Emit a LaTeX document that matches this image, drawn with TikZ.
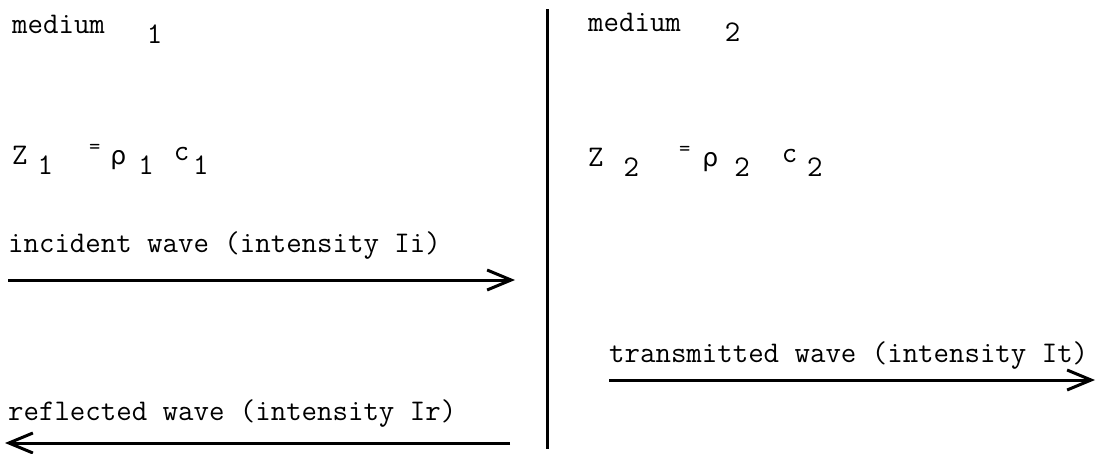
\documentclass[tikz,border=0pt]{standalone}
\usepackage{fontspec}
\usepackage{tikz}
\usetikzlibrary{arrows.meta}
\newfontfamily\grk{DejaVu Sans}
\newcommand{\wavefont}{\ttfamily\fontsize{30}{34}\selectfont\addfontfeatures{FakeBold=2.5}}
\newcommand{\sub}[1]{\raisebox{-10pt}{#1}}
\newcommand{\eqs}{\raisebox{11pt}{\fontsize{22}{26}\selectfont =}}
\newcommand{\rh}{{\grk\fontsize{25}{28}\selectfont ρ}}

\begin{document}
\begin{tikzpicture}[x=1pt,y=-1pt,
    lbl/.style={anchor=base west,inner sep=0pt,font=\wavefont},
    wave/.style={line width=3pt,-{Straight Barb[length=24pt,width=20pt]}}]
    \useasboundingbox (0,0) rectangle (1097,453);
    % boundary between the two media
    \coordinate (btop) at (547,9);
    \coordinate (bbot) at (547,449);
    \draw[line width=3pt] (btop) -- (bbot);

    % medium 1
    \node[lbl] (med1) at (12,33) {medium\hspace{42pt}\sub{1}};
    \node[lbl] (imp1) at (12,164) {Z\hspace{10pt}\sub{1}\hspace{36pt}\eqs\hspace{10pt}\rh\hspace{12pt}\sub{1}\hspace{20pt}\raisebox{4pt}{c}\hspace{4pt}\sub{1}};
    \node[lbl] (inc) at (8,252) {incident wave (intensity Ii)};
    \node[lbl] (refl) at (8,420) {reflected wave (intensity Ir)};
    \coordinate (incA) at (8,280);
    \coordinate (incB) at (515,280);
    \coordinate (refA) at (510,443);
    \coordinate (refB) at (5,443);
    \draw[wave] (incA) -- (incB);
    \draw[wave] (refA) -- (refB);

    % medium 2
    \node[lbl] (med2) at (588,31) {medium\hspace{44pt}\sub{2}};
    \node[lbl] (imp2) at (588,166) {Z\hspace{20pt}\sub{2}\hspace{40pt}\eqs\hspace{12pt}\rh\hspace{16pt}\sub{2}\hspace{32pt}\raisebox{4pt}{c}\hspace{10pt}\sub{2}};
    \node[lbl] (trans) at (609,362) {transmitted wave (intensity It)};
    \coordinate (trA) at (609,380);
    \coordinate (trB) at (1095,380);
    \draw[wave] (trA) -- (trB);
\end{tikzpicture}
\end{document}
